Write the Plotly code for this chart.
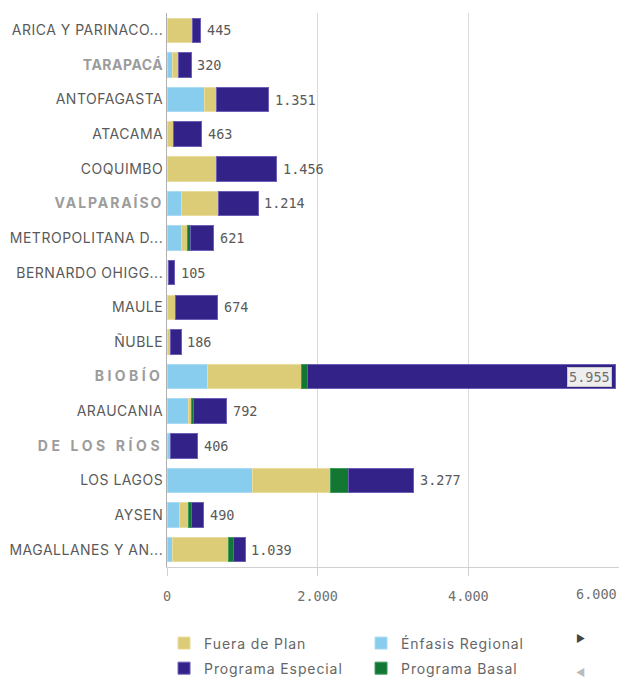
import plotly.graph_objects as go

categories = ["ARICA Y PARINACO...", "TARAPACÁ", "ANTOFAGASTA", "ATACAMA", "COQUIMBO",
              "VALPARAÍSO", "METROPOLITANA D...", "BERNARDO OHIGG...", "MAULE", "ÑUBLE",
              "BIOBÍO", "ARAUCANIA", "DE LOS RÍOS", "LOS LAGOS", "AYSEN", "MAGALLANES Y AN..."]
enfasis_regional = [0, 70, 500, 0, 0, 195, 195, 0, 0, 0, 540, 280, 40, 1138, 165, 75]
fuera_de_plan = [340, 85, 160, 80, 660, 490, 80, 25, 115, 40, 1250, 50, 12, 1032, 120, 735]
programa_basal = [0, 0, 0, 0, 0, 0, 35, 0, 0, 0, 70, 20, 0, 234, 45, 75]
programa_especial = [105, 165, 691, 383, 796, 529, 311, 80, 559, 146, 4095, 442, 354, 873, 160, 154]
x_ticks = [0, 2000, 4000, 6000]

# label styling (letter spacing in px) for the labels drawn bold/grey in the reference
highlight_spacing = {"TARAPACÁ": 0.5, "VALPARAÍSO": 1.9, "BIOBÍO": 3.4, "DE LOS RÍOS": 3.6}

def fmt(v):
    return f"{v:,}".replace(",", ".")

def spaced(t, px):
    return f"<span style='letter-spacing:{px}px'>{t}</span>"

fig = go.Figure()
series = [
    ("Énfasis Regional", enfasis_regional, "#88CCEE", "#a9dcf4", "legend", 2),
    ("Fuera de Plan", fuera_de_plan, "#DDCC77", "#e8dc9e", "legend", 1),
    ("Programa Basal", programa_basal, "#117733", "#3f9a5c", "legend2", 2),
    ("Programa Especial", programa_especial, "#332288", "#6b5fb8", "legend2", 1),
]
for name, vals, col, lcol, leg, rank in series:
    fig.add_trace(go.Bar(
        y=categories, x=vals, name=spaced(name, 0.9), orientation="h",
        marker=dict(color=col, line=dict(color=lcol, width=1)),
        legend=leg, legendrank=rank, hovertemplate=name + ": %{x}<extra></extra>",
    ))

totals = [a + b + c + d for a, b, c, d in zip(enfasis_regional, fuera_de_plan, programa_basal, programa_especial)]
vmax = max(totals)
annotations = []
for cat, t in zip(categories, totals):
    if t == vmax:
        annotations.append(dict(x=t, y=cat, xref="x", yref="y", text=fmt(t), showarrow=False,
                                xanchor="right", xshift=-4,
                                font=dict(family="DejaVu Sans Mono", size=13.5, color="#707070"),
                                bgcolor="#eeeeee", bordercolor="#c8c8c8", borderwidth=1, borderpad=1))
    else:
        annotations.append(dict(x=t, y=cat, xref="x", yref="y", text=fmt(t), showarrow=False,
                                xanchor="left", xshift=4,
                                font=dict(family="DejaVu Sans Mono", size=13.5, color="#595959")))

annotations.append(dict(x=1, y=0, xref="paper", yref="paper", text=fmt(x_ticks[-1]), showarrow=False,
                        xanchor="right", yanchor="top", yshift=-17,
                        font=dict(family="DejaVu Sans Mono", size=13.5, color="#707070")))
annotations.append(dict(x=0.929, y=-0.128, xref="paper", yref="paper", text="▶", showarrow=False,
                        yanchor="middle", font=dict(size=10, color="#444444")))
annotations.append(dict(x=0.929, y=-0.19, xref="paper", yref="paper", text="◀", showarrow=False,
                        yanchor="middle", font=dict(size=10, color="#bbbbbb")))

ticktext = []
for c in categories:
    if c in highlight_spacing:
        ticktext.append(f"<b><span style='color:#9c9c9c;letter-spacing:{highlight_spacing[c]}px'>{c}</span></b>")
    else:
        ticktext.append(spaced(c, 0.5))

legend_common = dict(orientation="h", xref="container", yref="container", x=0.265, xanchor="left",
                     yanchor="middle", entrywidth=152,
                     font=dict(family="Inter", size=14, color="#666666"), traceorder="normal")

fig.update_layout(
    width=619, height=677,
    margin=dict(l=167, r=0, t=13, b=110, autoexpand=False),
    barmode="stack", bargap=0.295,
    plot_bgcolor="white", paper_bgcolor="white",
    separators=",.",
    font=dict(family="Inter", color="#595959"),
    xaxis=dict(range=[0, 6000], tickvals=x_ticks, ticktext=[fmt(v) for v in x_ticks[:-1]] + [""],
               showgrid=True, gridcolor="#d9d9d9", gridwidth=1, zeroline=False,
               showline=True, linecolor="#d0d0d0", linewidth=1,
               ticks="outside", ticklen=8, tickcolor="#d0d0d0",
               tickfont=dict(family="DejaVu Sans Mono", size=13.5, color="#707070"),
               ticklabelstandoff=9),
    yaxis=dict(categoryorder="array", categoryarray=categories, autorange="reversed",
               tickvals=categories, ticktext=ticktext,
               showline=True, linecolor="#b0b0b0", linewidth=1, ticks="",
               tickfont=dict(family="Inter", size=14, color="#5a5a5a"), showgrid=False),
    legend=dict(legend_common, y=0.0495),
    legend2=dict(legend_common, y=0.0125),
    annotations=annotations,
    showlegend=True,
)
fig.write_html("out.html", config={"displayModeBar": False},
               post_script="document.body.style.margin='0';document.body.style.overflow='hidden';")
